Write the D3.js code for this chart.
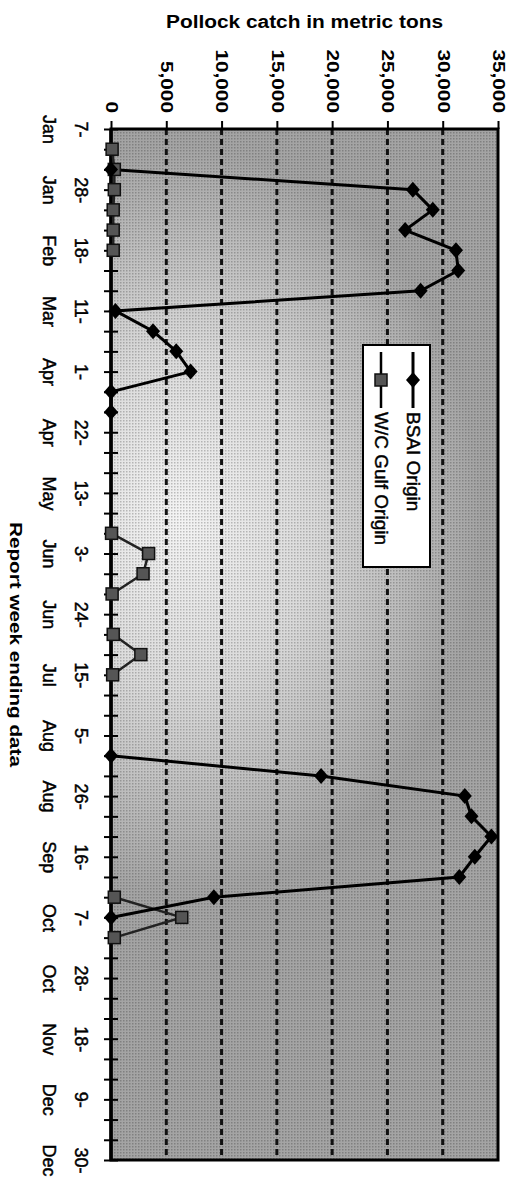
<!DOCTYPE html>
<html>
<head>
<meta charset="utf-8">
<script src="https://cdn.jsdelivr.net/npm/d3@7"></script>
<style>
    body { margin: 0; background: #fff; }
    svg text { font-family: "Liberation Sans", Arial, Helvetica, sans-serif; fill: #000; }
    /* scanned print looks a little heavier than the screen font */
    .heavy { stroke: #000; stroke-width: 0.45px; }
</style>
</head>
<body>
<div id="plot"></div>
<script>
// weekly report categories, 7-Jan .. 30-Dec (52 weeks)
const weeks = d3.range(52);
// every third week is labelled [day, month]
const tickDays = ['7-', '28-', '18-', '11-', '1-', '22-', '13-', '3-', '24-', '15-', '5-', '26-', '16-', '7-', '28-', '18-', '9-', '30-'];
const tickMonths = ['Jan', 'Jan', 'Feb', 'Mar', 'Apr', 'Apr', 'May', 'Jun', 'Jun', 'Jul', 'Aug', 'Aug', 'Sep', 'Oct', 'Oct', 'Nov', 'Dec', 'Dec'];
// value axis ticks
const valueTicks = [0, 5000, 10000, 15000, 20000, 25000, 30000, 35000];

// pollock catch in metric tons, null = no report
const bsai = [null, null, 0, 27300, 29100, 26600, 31200, 31400, 28000, 400,
    3800, 5900, 7200, 0, 0, null, null, null, null, null,
    null, null, null, null, null, null, null, null, null, null,
    null, 0, 19000, 32000, 32600, 34400, 32900, 31500, 9300, 0,
    null, null, null, null, null, null, null, null, null, null,
    null, null];
const wcGulf = [null, 100, 300, 300, 200, 200, 200, null, null, null,
    null, null, null, null, null, null, null, null, null, null,
    50, 3400, 2900, 100, null, 200, 2700, 150, null, null,
    null, null, null, null, null, null, null, null, 300, 6400,
    300, null, null, null, null, null, null, null, null, null,
    null, null];

const W = 514, H = 1184;
// plot area (chart is turned on its side: values run left to right)
const plotLeft = 111, plotRight = 498, plotTop = 129, plotBottom = 1160;

let svg = d3.select('#plot').append('svg')
    .attr('width', W)
    .attr('height', H);

// background gradient, lighter patch on the left middle
let defs = svg.append('defs');
let grad = defs.append('radialGradient')
    .attr('id', 'bg')
    .attr('gradientUnits', 'userSpaceOnUse')
    .attr('cx', 180).attr('cy', 520).attr('r', 300)
    .attr('gradientTransform', 'translate(180,520) scale(1,1.25) translate(-180,-520)');
grad.append('stop').attr('offset', 0).attr('stop-color', '#f4f4f4');
grad.append('stop').attr('offset', 0.45).attr('stop-color', '#dadada');
grad.append('stop').attr('offset', 1).attr('stop-color', '#a4a4a4');

// halftone-like dot texture laid over the gradient
let dots = defs.append('pattern')
    .attr('id', 'dots')
    .attr('patternUnits', 'userSpaceOnUse')
    .attr('width', 3).attr('height', 3);
dots.append('rect')
    .attr('width', 1.5).attr('height', 1.5)
    .attr('fill', '#000')
    .attr('fill-opacity', 0.22);

// scales
let x = d3.scaleLinear().domain([0, 35000]).range([plotLeft, plotRight]);
let y = d3.scalePoint().domain(weeks).range([plotTop, plotBottom]);

svg.append('rect')
    .attr('x', plotLeft).attr('y', plotTop)
    .attr('width', plotRight - plotLeft).attr('height', plotBottom - plotTop)
    .attr('fill', 'url(#bg)');
svg.append('rect')
    .attr('x', plotLeft).attr('y', plotTop)
    .attr('width', plotRight - plotLeft).attr('height', plotBottom - plotTop)
    .attr('fill', 'url(#dots)');

// dashed gridlines
svg.append('g')
    .selectAll('line')
    .data(valueTicks.slice(1, -1))
    .enter()
    .append('line')
    .attr('x1', d => x(d)).attr('x2', d => x(d))
    .attr('y1', plotTop).attr('y2', plotBottom)
    .attr('stroke', '#111')
    .attr('stroke-width', 3)
    .attr('stroke-dasharray', '6,4');

// frame
svg.append('rect')
    .attr('x', plotLeft).attr('y', plotTop)
    .attr('width', plotRight - plotLeft).attr('height', plotBottom - plotTop)
    .attr('fill', 'none')
    .attr('stroke', '#000')
    .attr('stroke-width', 3);

// value axis along the top
let xAxis = d3.axisTop(x)
    .tickValues(valueTicks)
    .tickSize(8)
    .tickFormat(d3.format(','));
let gx = svg.append('g')
    .attr('transform', `translate(0,${plotTop})`)
    .call(xAxis);
gx.select('.domain').remove();
gx.selectAll('.tick line').attr('stroke-width', 2);
gx.selectAll('.tick text')
    .attr('y', 0)
    .attr('dy', '0.35em')
    .attr('text-anchor', 'end')
    .attr('transform', 'translate(0,-16) rotate(90) scale(1.3,1)')
    .style('font-size', '16px')
    .style('font-weight', 'bold');

// category axis down the left side, cross ticks every week
let yAxis = d3.axisLeft(y)
    .tickSize(7)
    .tickFormat('');
let gy = svg.append('g')
    .attr('transform', `translate(${plotLeft},0)`)
    .call(yAxis);
gy.select('.domain').remove();
gy.selectAll('.tick line')
    .attr('x1', -7).attr('x2', 7)
    .attr('stroke-width', 2);
gy.append('line')
    .attr('y1', plotTop).attr('y2', plotBottom)
    .attr('stroke', '#000')
    .attr('stroke-width', 3.5);

// two line labels for every third week
let labelled = gy.selectAll('.tick').filter(d => d % 3 == 0);
labelled.append('text')
    .attr('class', 'heavy')
    .attr('transform', 'translate(-36,0) rotate(90)')
    .attr('text-anchor', 'middle')
    .style('font-size', '18px')
    .text(d => tickDays[d / 3]);
labelled.append('text')
    .attr('class', 'heavy')
    .attr('transform', 'translate(-68,0) rotate(90)')
    .attr('text-anchor', 'middle')
    .style('font-size', '18px')
    .text(d => tickMonths[d / 3]);

// axis titles
svg.append('text')
    .attr('x', (plotLeft + plotRight) / 2)
    .attr('y', 28)
    .attr('text-anchor', 'middle')
    .attr('textLength', 277)
    .attr('lengthAdjust', 'spacingAndGlyphs')
    .style('font-size', '18px')
    .style('font-weight', 'bold')
    .text('Pollock catch in metric tons');
svg.append('text')
    .attr('transform', `translate(10,${(plotTop + plotBottom) / 2}) rotate(90)`)
    .attr('text-anchor', 'middle')
    .attr('textLength', 245)
    .attr('lengthAdjust', 'spacingAndGlyphs')
    .style('font-size', '17px')
    .style('font-weight', 'bold')
    .text('Report week ending data');

// series lines
let line = d3.line()
    .defined(d => d.v !== null)
    .x(d => x(d.v))
    .y(d => y(d.w));
let bsaiData = weeks.map(w => ({ w: w, v: bsai[w] }));
let wcData = weeks.map(w => ({ w: w, v: wcGulf[w] }));

svg.append('path')
    .datum(wcData)
    .attr('d', line)
    .attr('fill', 'none')
    .attr('stroke', '#222')
    .attr('stroke-width', 2.5);
svg.append('path')
    .datum(bsaiData)
    .attr('d', line)
    .attr('fill', 'none')
    .attr('stroke', '#000')
    .attr('stroke-width', 3);

// markers: squares for W/C gulf, diamonds for BSAI
let diamond = 'M0,-8L7,0L0,8L-7,0Z';
svg.append('g')
    .selectAll('rect')
    .data(wcData.filter(d => d.v !== null))
    .enter()
    .append('rect')
    .attr('x', d => x(d.v) - 6)
    .attr('y', d => y(d.w) - 6)
    .attr('width', 12).attr('height', 12)
    .attr('fill', '#555')
    .attr('stroke', '#111')
    .attr('stroke-width', 1.5);
svg.append('g')
    .selectAll('path')
    .data(bsaiData.filter(d => d.v !== null))
    .enter()
    .append('path')
    .attr('d', diamond)
    .attr('transform', d => `translate(${x(d.v)},${y(d.w)})`)
    .attr('fill', '#000');

// legend
let legend = svg.append('g');
legend.append('rect')
    .attr('x', 363).attr('y', 345)
    .attr('width', 67).attr('height', 222)
    .attr('fill', '#fff')
    .attr('stroke', '#000')
    .attr('stroke-width', 2);
let entries = [
    { name: 'BSAI Origin', cx: 413, mark: 'diamond' },
    { name: 'W/C Gulf Origin', cx: 381, mark: 'square' }
];
entries.forEach(function (e) {
    legend.append('line')
        .attr('x1', e.cx).attr('x2', e.cx)
        .attr('y1', 352).attr('y2', 408)
        .attr('stroke', '#000')
        .attr('stroke-width', e.mark == 'diamond' ? 3 : 2.5);
    if (e.mark == 'diamond') {
        legend.append('path')
            .attr('d', diamond)
            .attr('transform', `translate(${e.cx},380)`)
            .attr('fill', '#000');
    } else {
        legend.append('rect')
            .attr('x', e.cx - 6).attr('y', 374)
            .attr('width', 12).attr('height', 12)
            .attr('fill', '#555')
            .attr('stroke', '#111')
            .attr('stroke-width', 1.5);
    }
    legend.append('text')
        .attr('class', 'heavy')
        .attr('transform', `translate(${e.cx - 6},412) rotate(90)`)
        .attr('text-anchor', 'start')
        .style('font-size', '19px')
        .text(e.name);
});
</script>
</body>
</html>
